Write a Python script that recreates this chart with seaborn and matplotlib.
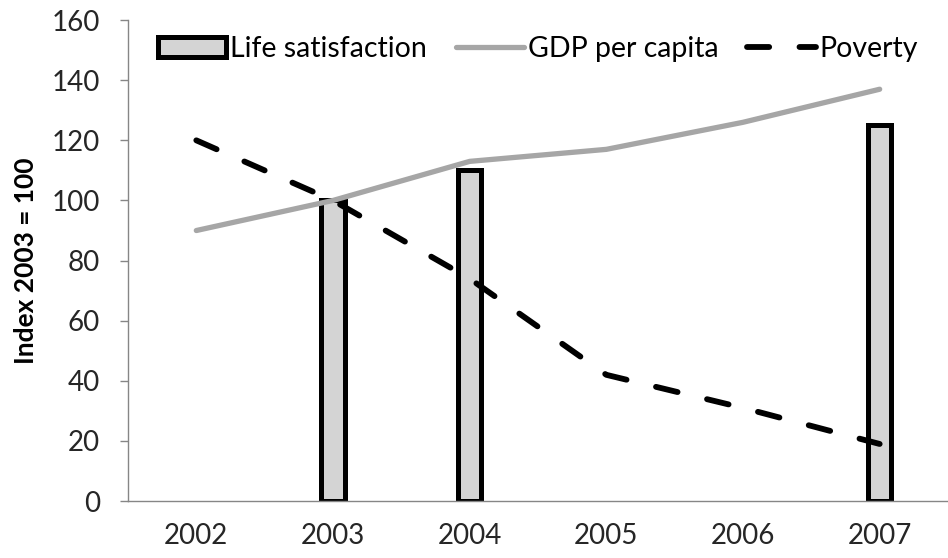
import numpy as np
import pandas as pd
import matplotlib
matplotlib.use("Agg")
import matplotlib.pyplot as plt
import seaborn as sns

years = ["2002", "2003", "2004", "2005", "2006", "2007"]
life_years = ["2003", "2004", "2007"]
life_satisfaction = [100, 110, 125]
gdp_per_capita = [90, 100, 113, 117, 126, 137]
poverty = [120, 100, 74, 42, 31, 19]
yticks = [0, 20, 40, 60, 80, 100, 120, 140, 160]

sns.set_theme(style="white")
plt.rcParams["font.family"] = ["Lato", "DejaVu Sans"]

fig = plt.figure(figsize=(9.48, 5.58), dpi=100)
ax = fig.add_axes([0.135, 0.102, 0.865, 0.862])

bars = pd.DataFrame({"year": life_years, "value": life_satisfaction})
lines = pd.DataFrame({"pos": np.arange(len(years)), "gdp": gdp_per_capita, "poverty": poverty})

sns.barplot(data=bars, x="year", y="value", order=years, width=0.17,
            color="#d4d4d4", edgecolor="black", linewidth=3.6, saturation=1,
            label="Life satisfaction", ax=ax)
sns.lineplot(data=lines, x="pos", y="gdp", color="#a6a6a6", linewidth=3.8,
             label="GDP per capita", ax=ax)
sns.lineplot(data=lines, x="pos", y="poverty", color="black", linewidth=4.2,
             label="Poverty", ax=ax, dashes=False)
pov_line = ax.get_lines()[-1]
pov_line.set_dashes((3.8, 5.2))
pov_line.set_dash_capstyle("round")

ax.set_xlim(-0.5, len(years) - 0.5)
ax.set_ylim(0, 160)
ax.set_yticks(yticks)
ax.set_xticks(np.arange(len(years)))
ax.set_xticklabels(years)
ax.tick_params(axis="both", labelsize=20, colors="#262626")
ax.tick_params(axis="y", length=6, width=1, color="#868686", direction="out", left=True, pad=14)
ax.tick_params(axis="x", length=0, pad=16)
for s in ["top", "right"]:
    ax.spines[s].set_visible(False)
for s in ["left", "bottom"]:
    ax.spines[s].set_color("#868686")
    ax.spines[s].set_linewidth(1)
ax.set_xlabel("")
ax.set_ylabel("Index 2003 = 100", fontsize=19, fontweight="bold", color="black", labelpad=10)

handles, labels = ax.get_legend_handles_labels()
order = [labels.index(n) for n in ["Life satisfaction", "GDP per capita", "Poverty"]]
leg = ax.legend([handles[i] for i in order], [labels[i] for i in order],
                loc="center", bbox_to_anchor=(0.5, 0.94), ncol=3,
                frameon=False, fontsize=20.5, handlelength=2.4, handletextpad=0.15,
                columnspacing=1.0, borderpad=0, borderaxespad=0)
for t in leg.get_texts():
    t.set_color("black")

fig.savefig("out.png", dpi=100)
